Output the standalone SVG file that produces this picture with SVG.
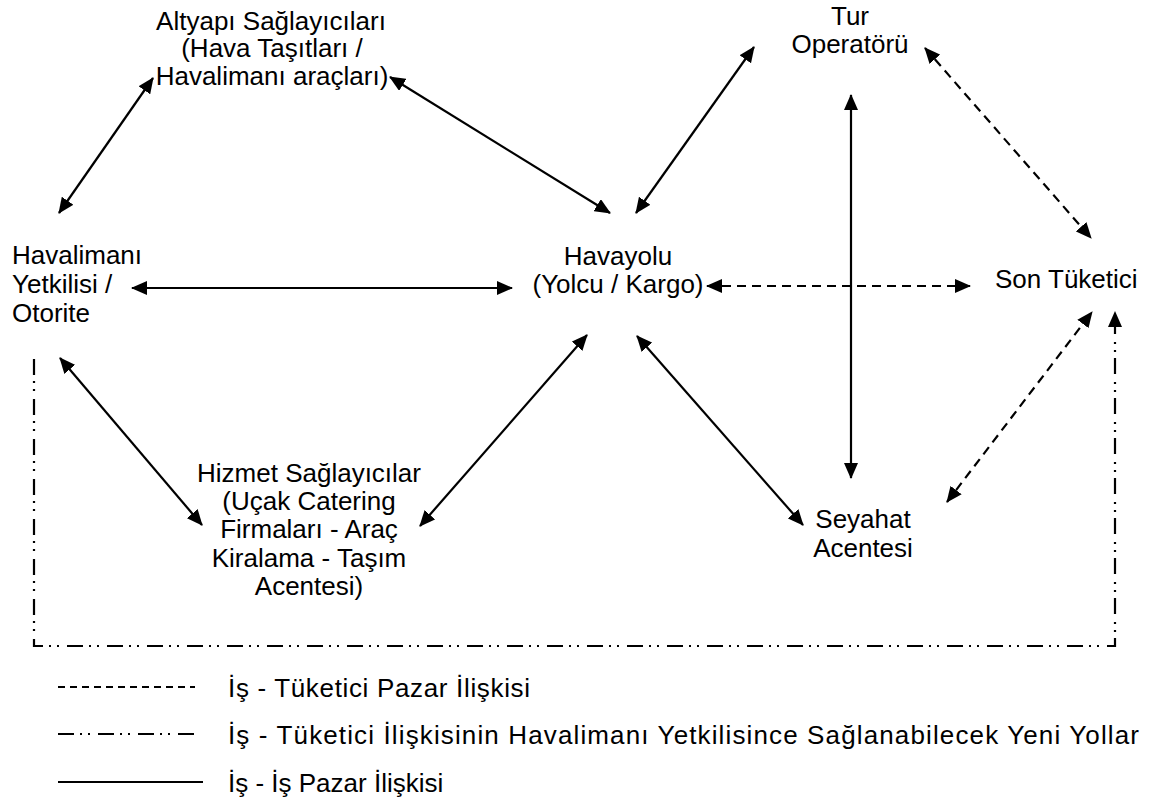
<svg xmlns="http://www.w3.org/2000/svg" width="1153" height="809" viewBox="0 0 1153 809">
  <style>
    text { font-family: "Liberation Sans", Arial, sans-serif; font-size: 26px; fill: #000; }
    .c { text-anchor: middle; }
    .ln { stroke: #000; stroke-width: 2.2; fill: none; }
    .dash { stroke-dasharray: 9 6; }
    .dd { stroke-dasharray: 16 6 2 6 2 8; }
    .both { marker-start: url(#ah); marker-end: url(#ah); }
  </style>
  <defs>
    <marker id="ah" viewBox="0 0 16 14" refX="15" refY="7" markerWidth="16" markerHeight="14" markerUnits="userSpaceOnUse" orient="auto-start-reverse">
      <path d="M0,0 L16,7 L0,14 Z" fill="#000"/>
    </marker>
  </defs>

  <rect width="1153" height="809" fill="#fff"/>

  <!-- actors -->
  <g id="altyapi">
    <text class="c" x="271" y="30">Altyapı Sağlayıcıları</text>
    <text class="c" x="272" y="57">(Hava Taşıtları /</text>
    <text class="c" x="272" y="85">Havalimanı araçları)</text>
  </g>
  <g id="tur-operatoru">
    <text class="c" x="850" y="25">Tur</text>
    <text class="c" x="850" y="53">Operatörü</text>
  </g>
  <g id="havalimani">
    <text x="12" y="264">Havalimanı</text>
    <text x="12" y="293">Yetkilisi /</text>
    <text x="12" y="322">Otorite</text>
  </g>
  <g id="havayolu">
    <text class="c" x="618" y="265">Havayolu</text>
    <text class="c" x="618" y="293">(Yolcu / Kargo)</text>
  </g>
  <g id="son-tuketici">
    <text x="995" y="288">Son Tüketici</text>
  </g>
  <g id="hizmet">
    <text class="c" x="309" y="482">Hizmet Sağlayıcılar</text>
    <text class="c" x="309" y="510">(Uçak Catering</text>
    <text class="c" x="309" y="538">Firmaları - Araç</text>
    <text class="c" x="309" y="567">Kiralama - Taşım</text>
    <text class="c" x="309" y="595">Acentesi)</text>
  </g>
  <g id="seyahat">
    <text class="c" x="863" y="528">Seyahat</text>
    <text class="c" x="863" y="557">Acentesi</text>
  </g>

  <!-- connectors -->
  <g id="connectors">
    <line class="ln both" x1="153" y1="78" x2="59" y2="213"/>
    <line class="ln both" x1="390" y1="77" x2="610" y2="213"/>
    <line class="ln both" x1="636" y1="213" x2="754" y2="47"/>
    <line class="ln both dash" x1="925" y1="48" x2="1091" y2="238"/>
    <line class="ln both" x1="132" y1="288" x2="512" y2="288"/>
    <line class="ln both dash" x1="707" y1="286" x2="970" y2="286"/>
    <line class="ln both" x1="60" y1="358" x2="202" y2="525"/>
    <line class="ln both" x1="420" y1="526" x2="587" y2="335"/>
    <line class="ln both" x1="637" y1="336" x2="803" y2="525"/>
    <line class="ln both" x1="851" y1="95" x2="851" y2="478"/>
    <line class="ln both dash" x1="947" y1="502" x2="1092" y2="312"/>
    <path class="ln dd" d="M34,359 V646 H1115 V312" marker-end="url(#ah)"/>
  </g>

  <!-- legend -->
  <g id="legend">
    <line class="ln" x1="58" y1="687" x2="195" y2="687" stroke-dasharray="7 5"/>
    <text x="228" y="697" textLength="302" lengthAdjust="spacing">İş - Tüketici Pazar İlişkisi</text>
    <line class="ln dd" x1="58" y1="734" x2="197" y2="734"/>
    <text x="228" y="744" textLength="911" lengthAdjust="spacing">İş - Tüketici İlişkisinin Havalimanı Yetkilisince Sağlanabilecek Yeni Yollar</text>
    <line class="ln" x1="58" y1="782" x2="203" y2="782"/>
    <text x="228" y="792">İş - İş Pazar İlişkisi</text>
  </g>
</svg>
